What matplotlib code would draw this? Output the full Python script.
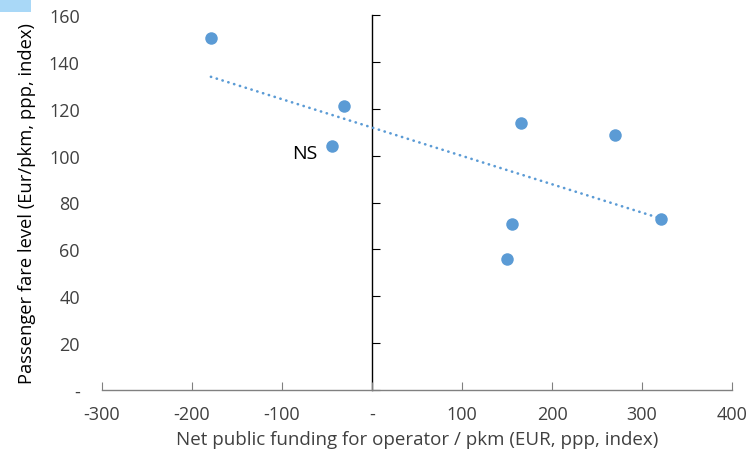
import numpy as np
import matplotlib
matplotlib.use("Agg")
import matplotlib.pyplot as plt
from matplotlib.patches import Rectangle

# Data
funding = [-179, -31, -44, 166, 270, 156, 150, 321]
fare = [150, 121, 104, 114, 109, 71, 56, 73]
label_text = "NS"
label_pos = (-61, 101)
x_ticks = [-300, -200, -100, 0, 100, 200, 300, 400]
x_ticklabels = ["-300", "-200", "-100", "-", "100", "200", "300", "400"]
y_ticks = [0, 20, 40, 60, 80, 100, 120, 140, 160]
y_ticklabels = ["-", "20", "40", "60", "80", "100", "120", "140", "160"]

plt.rcParams['font.family'] = ['Open Sans', 'DejaVu Sans']
blue = '#5b9bd5'
txt = '#404040'

fig = plt.figure(figsize=(7.48, 4.56), dpi=100)
ax = fig.add_axes([102/748, 1-391/456, 630/748, 375/456])

ax.scatter(funding, fare, s=9**2, color=blue, zorder=3, linewidths=0)

# linear trendline
coef = np.polyfit(funding, fare, 1)
xs = np.array([min(funding), max(funding)])
ax.plot(xs, np.polyval(coef, xs), color=blue, lw=1.9,
        linestyle=(0, (0.1, 2.2)), dash_capstyle='round', zorder=2)

ax.text(label_pos[0], label_pos[1], label_text, ha='right', va='center',
        fontsize=14, color='black')

ax.set_xlim(-300, 400)
ax.set_ylim(0, 160)

for s in ['top', 'right', 'left']:
    ax.spines[s].set_visible(False)
ax.spines['bottom'].set_color('#808080')
ax.spines['bottom'].set_linewidth(1.0)

ax.set_xticks(x_ticks)
ax.set_xticklabels(x_ticklabels)
ax.tick_params(axis='x', direction='in', length=6, color='#808080',
               labelsize=13, labelcolor=txt, pad=11)
ax.set_yticks(y_ticks)
ax.set_yticklabels(y_ticklabels)
ax.tick_params(axis='y', length=0, labelsize=13, labelcolor=txt, pad=16)

# Vertical axis line at x=0 with inward ticks
sec = ax.secondary_yaxis(3/7)
sec.set_yticks(y_ticks)
sec.tick_params(axis='y', direction='in', length=6, color='black', labelleft=False, labelright=False)
sec.spines['left'].set_color('black')
sec.spines['left'].set_linewidth(1.0)
sec.set_yticklabels([])

ax.set_xlabel("Net public funding for operator / pkm (EUR, ppp, index)",
              fontsize=13.5, color=txt, labelpad=5)
ax.set_ylabel("Passenger fare level (Eur/pkm, ppp, index)",
              fontsize=13.2, color='black', labelpad=9)

fig.patches.append(Rectangle((0, 1-13/456), 31/748, 13/456, transform=fig.transFigure,
                             facecolor='#a9d8f7', edgecolor='none'))

fig.savefig("out.png", dpi=100)
